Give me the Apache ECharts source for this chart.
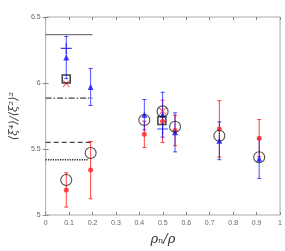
<!DOCTYPE html>
<html><head><meta charset="utf-8">
<script src="https://cdn.jsdelivr.net/npm/echarts@6/dist/echarts.min.js"></script>
<style>html,body{margin:0;padding:0;background:#fff}#c{width:285px;height:251px}</style>
</head><body><div id="c"></div>
<script>
var xTicks = ['0','0.1','0.2','0.3','0.4','0.5','0.6','0.7','0.8','0.9','1'];
var yTicks = ['5','5.5','6','6.5'];
var xPts = [0.088, 0.192, 0.421, 0.499, 0.552, 0.741, 0.911];
var blueVal = [6.193, 5.97, 5.76, 5.76, 5.626, 5.562, 5.426];
var blueErr = [0.16, 0.14, 0.115, 0.17, 0.148, 0.143, 0.149];
var redVal = [5.19, 5.34, 5.611, 5.71, 5.64, 5.652, 5.582];
var redErr = [0.13, 0.217, 0.1, 0.16, 0.115, 0.214, 0.141];
var circleVal = [5.265, 5.47, 5.72, 5.785, 5.668, 5.6, 5.438];
var plusX = [0.088, 0.499], plusVal = [6.262, 5.651];
var crossX = [0.088, 0.499], crossVal = [5.995, 5.787];
var squareX = [0.088, 0.496], squareVal = [6.03, 5.715];
var refVal = [6.366, 5.886, 5.55, 5.418];
var refEnd = [0.2, 0.2, 0.2, 0.18];

function pairs(xs, ys){ return xs.map(function(x,i){return [x, ys[i]];}); }
function errData(vals, errs){ return xPts.map(function(x,i){return [x, vals[i]-errs[i], vals[i]+errs[i]];}); }
function errSeries(vals, errs, color){
  return {
    type:'custom', data: errData(vals, errs), z:2,
    renderItem: function(params, api){
      var lo = api.coord([api.value(0), api.value(1)]);
      var hi = api.coord([api.value(0), api.value(2)]);
      var w = 2;
      var st = {stroke: color, lineWidth: 1};
      return {type:'group', children:[
        {type:'line', shape:{x1:lo[0],y1:lo[1],x2:hi[0],y2:hi[1]}, style:st},
        {type:'line', shape:{x1:lo[0]-w,y1:lo[1],x2:lo[0]+w,y2:lo[1]}, style:st},
        {type:'line', shape:{x1:hi[0]-w,y1:hi[1],x2:hi[0]+w,y2:hi[1]}, style:st}
      ]};
    }
  };
}
var refStyles = [
  {type:'solid', color:'#555', width:1},
  {type:[6,2,1.5,2], color:'#444', width:1.2},
  {type:[5,3], color:'#444', width:1.2},
  {type:[1.2,1.2], color:'#222', width:1.5}
];
var series = [];
refVal.forEach(function(v,i){
  series.push({type:'line', data:[[0,v],[refEnd[i],v]], symbol:'none', lineStyle:refStyles[i], z:1, silent:true});
});
series.push(errSeries(redVal, redErr, 'rgba(255,0,0,0.75)'));
series.push(errSeries(blueVal, blueErr, 'rgba(0,0,255,0.7)'));
series.push({type:'scatter', data:pairs(xPts, redVal), symbol:'circle', symbolSize:5, itemStyle:{color:'#ff2020'}, z:3});
series.push({type:'scatter', data:pairs(xPts, blueVal), symbol:'triangle', symbolSize:6, itemStyle:{color:'#1010ff'}, z:3});
series.push({type:'scatter', data:pairs(plusX, plusVal), symbol:'path://M-1,-10H1V-1H10V1H1V10H-1V1H-10V-1H-1Z', symbolSize:11, itemStyle:{color:'#1010ff'}, z:4});
series.push({type:'scatter', data:pairs(crossX, crossVal), symbol:'path://M-10,-8L-8,-10L0,-2L8,-10L10,-8L2,0L10,8L8,10L0,2L-8,10L-10,8L-2,0Z', symbolSize:7, itemStyle:{color:'#ff2020'}, z:4});
series.push({type:'scatter', data:pairs(squareX, squareVal), symbol:'rect', symbolSize:8, itemStyle:{color:'rgba(0,0,0,0)', borderColor:'#111', borderWidth:1.5}, z:5});
series.push({type:'scatter', data:pairs(xPts, circleVal), symbol:'circle', symbolSize:11, itemStyle:{color:'rgba(0,0,0,0)', borderColor:'#222', borderWidth:1.1}, z:5});

var lblStyle = {color:'#666', fontSize:7, fontFamily:'Liberation Sans'};
var chart = echarts.init(document.getElementById('c'), null, {renderer:'canvas'});
chart.setOption({
  animation:false,
  grid:{left:29, right:2, top:17, bottom:32, show:true, borderColor:'#aaa', borderWidth:1, containLabel:false},
  xAxis:[
    {type:'value', min:0, max:1, interval:0.1, position:'bottom',
     axisLine:{show:false}, splitLine:{show:false},
     axisTick:{inside:true, length:3, lineStyle:{color:'#888'}},
     axisLabel:Object.assign({margin:5, formatter:function(v){var i=Math.round(v*10);return xTicks[i];}}, lblStyle),
     name:'ρₙ/ρ', nameLocation:'middle', nameGap:18,
     nameTextStyle:{fontSize:13, fontStyle:'italic', fontFamily:'DejaVu Serif', color:'#333'}},
    {type:'value', min:0, max:1, interval:0.1, position:'top',
     axisLine:{show:false}, splitLine:{show:false}, axisLabel:{show:false},
     axisTick:{inside:true, length:3, lineStyle:{color:'#888'}}}
  ],
  yAxis:[
    {type:'value', min:5, max:6.5, interval:0.5, position:'left',
     axisLine:{show:false}, splitLine:{show:false},
     axisTick:{inside:true, length:3, lineStyle:{color:'#888'}},
     axisLabel:Object.assign({margin:5, formatter:function(v){var i=Math.round((v-5)*2);return yTicks[i];}}, lblStyle),
     name:'⟨ξ⁴⟩/⟨ξ²⟩²', nameLocation:'middle', nameGap:16, nameRotate:90,
     nameTextStyle:{fontSize:11.5, fontStyle:'italic', fontFamily:'DejaVu Serif', color:'#333'}},
    {type:'value', min:5, max:6.5, interval:0.5, position:'right',
     axisLine:{show:false}, splitLine:{show:false}, axisLabel:{show:false},
     axisTick:{inside:true, length:3, lineStyle:{color:'#888'}}}
  ],
  series:series
});
</script></body></html>
